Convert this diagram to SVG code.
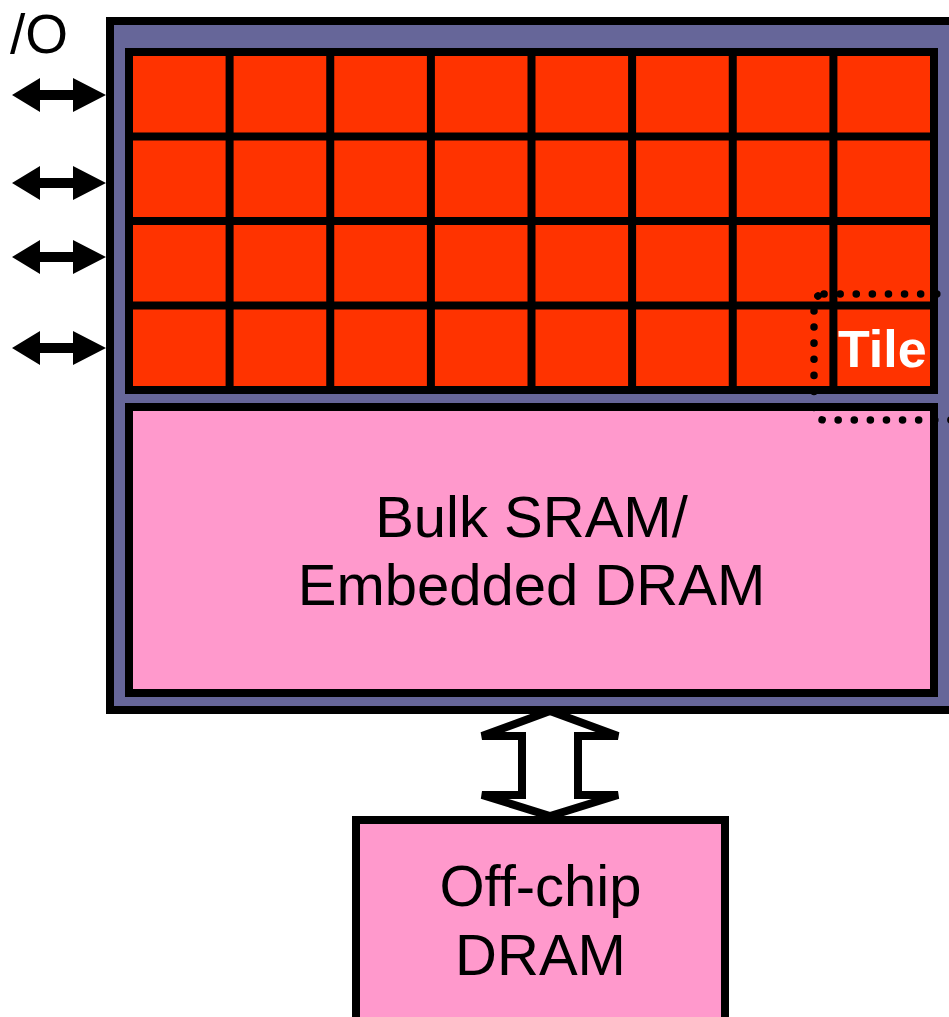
<svg xmlns="http://www.w3.org/2000/svg" width="949" height="1017" viewBox="0 0 949 1017">
<style>
.box{stroke:#000;stroke-width:8}
.lbl{font-family:"Liberation Sans",Arial,sans-serif;font-size:58px;fill:#000;text-anchor:middle}
.grid{stroke:#000;stroke-width:8;fill:none}
</style>
<defs>
<path id="io" d="M12,0 L40,-17 L40,-5 L73,-5 L73,-17 L106,0 L73,17 L73,5 L40,5 L40,17 Z" fill="#000"/>
</defs>
<rect width="949" height="1017" fill="#fff"/>
<g id="chip">
<rect class="box" x="110" y="21" width="900" height="689" fill="#666699"/>
</g>
<g id="tiles">
<rect class="box" x="129" y="52" width="805" height="338" fill="#FF3300"/>
<path class="grid" d="M229.6,52V390M330.25,52V390M430.9,52V390M531.5,52V390M632.1,52V390M732.75,52V390M833.4,52V390M129,136.5H934M129,221H934M129,305.5H934"/>
</g>
<g id="sram">
<rect class="box" x="129" y="407" width="805" height="286" fill="#FF99CC"/>
<text class="lbl" x="531.5" y="537">Bulk SRAM/</text>
<text class="lbl" x="531.5" y="605">Embedded DRAM</text>
</g>
<g id="tile">
<rect x="814" y="294" width="200" height="126" rx="10" fill="none" stroke="#000" stroke-width="7.5" stroke-dasharray="0.1 16" stroke-linecap="round"/>
<text x="838" y="367" font-family="Liberation Sans,Arial,sans-serif" font-weight="bold" font-size="52" fill="#fff">Tile</text>
</g>
<g id="io-label">
<text x="10" y="53" font-family="Liberation Sans,Arial,sans-serif" font-size="55" fill="#000">/O</text>
</g>
<g id="offchip">
<rect class="box" x="356" y="820" width="369" height="220" fill="#FF99CC"/>
<text class="lbl" x="540.5" y="906">Off-chip</text>
<text class="lbl" x="540.5" y="975">DRAM</text>
</g>
<g id="connectors">
<use href="#io" y="95"/>
<use href="#io" y="183"/>
<use href="#io" y="257"/>
<use href="#io" y="348"/>
<polygon points="550,711 618,736 578,736 578,795 618,795 550,816 482,795 522,795 522,736 482,736" fill="#fff" stroke="#000" stroke-width="8" stroke-linejoin="miter"/>
</g>
</svg>
